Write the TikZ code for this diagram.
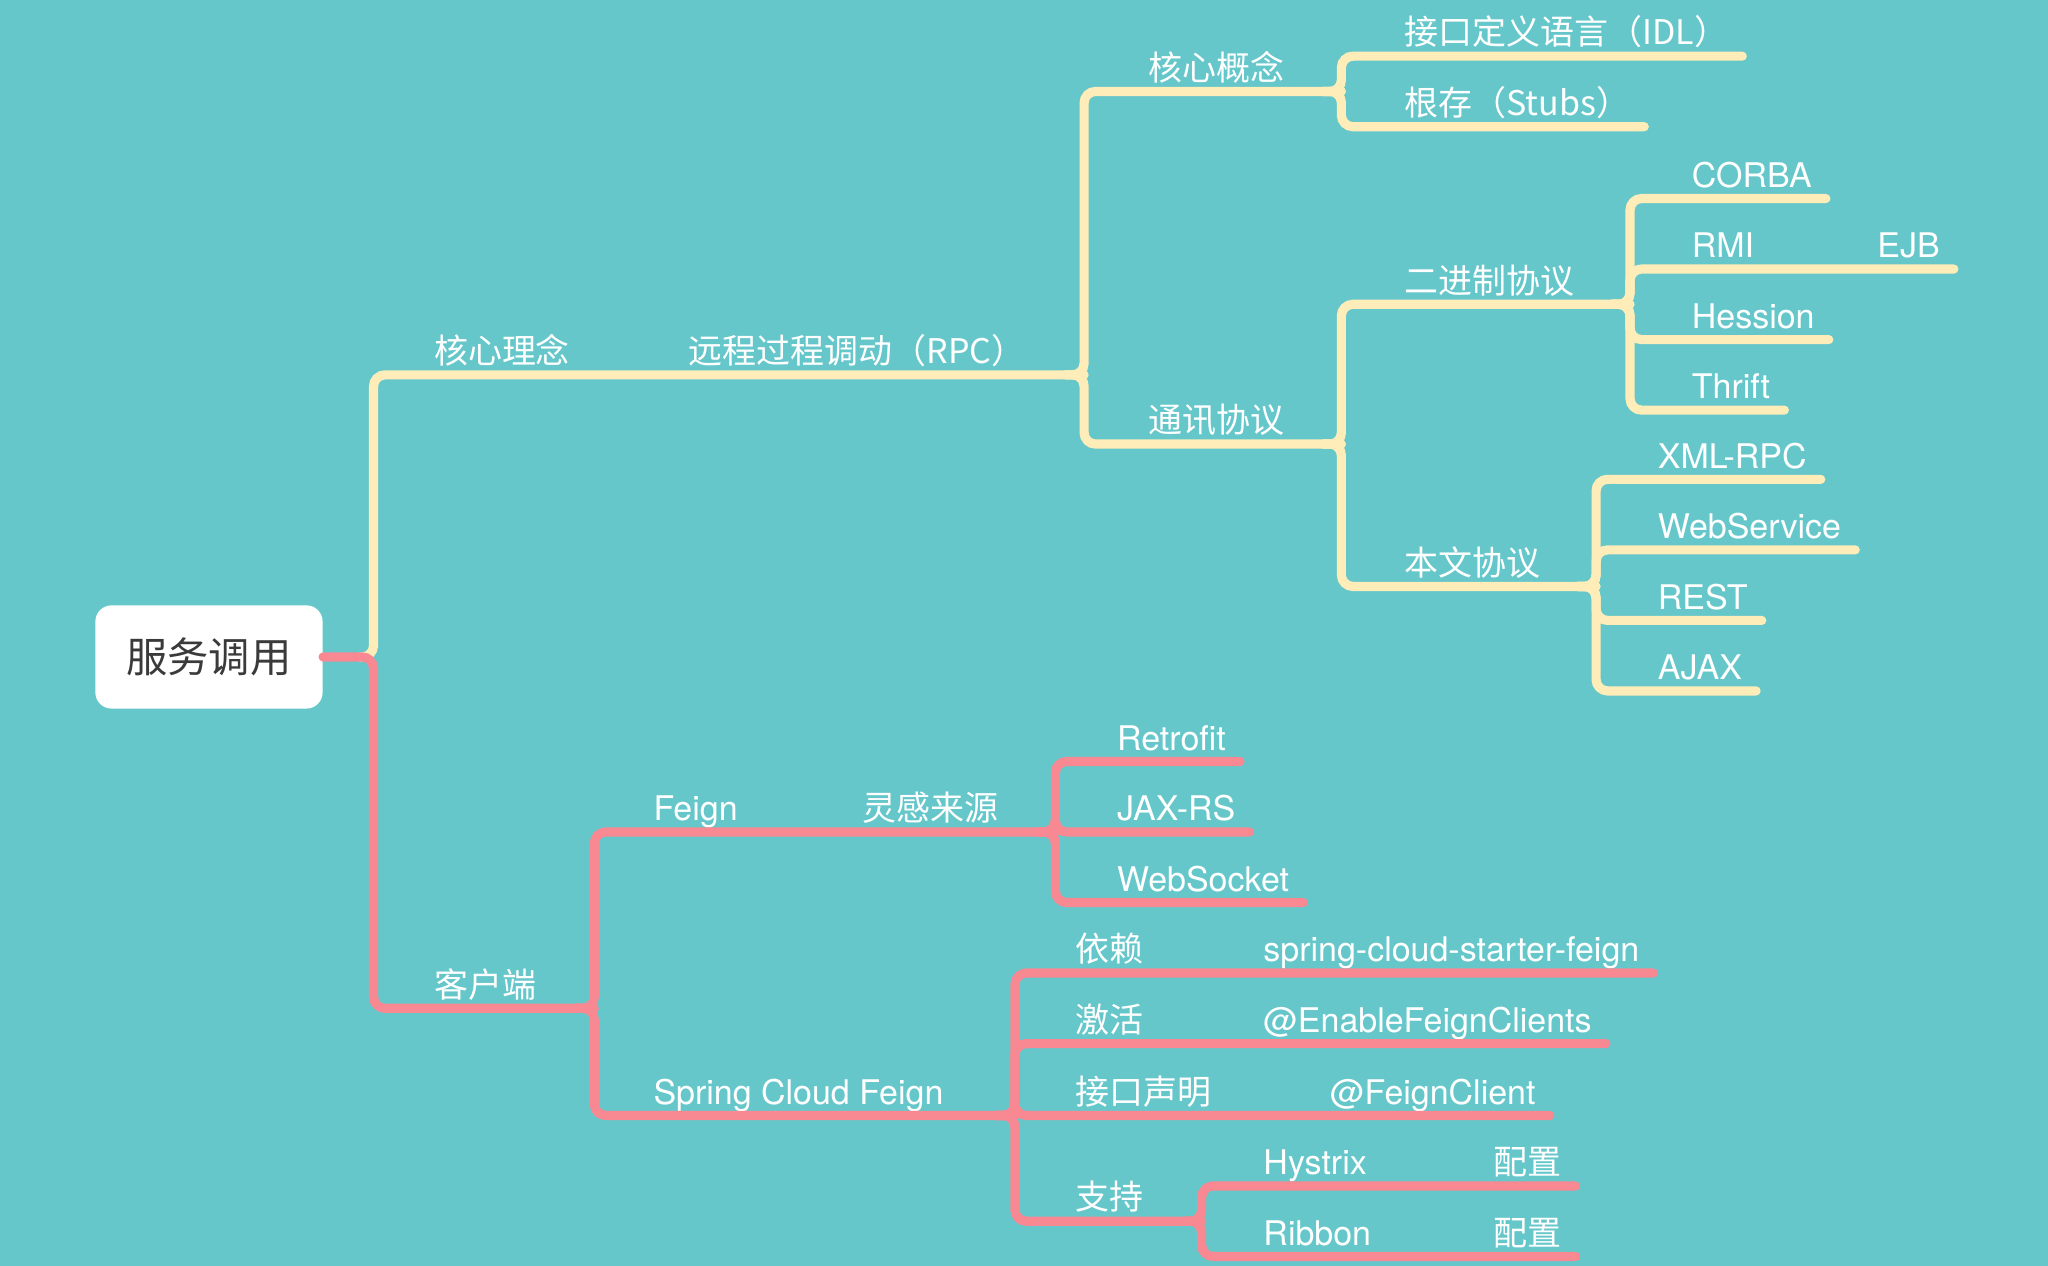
\documentclass[tikz,border=0pt]{standalone}
\usepackage{fontspec}
\usepackage{tikz}
\setmainfont{TeX Gyre Heros}
\newfontfamily\cjk{Noto Sans CJK SC}
\definecolor{bgteal}{RGB}{102,199,203}
\definecolor{lnyellow}{RGB}{254,237,184}
\definecolor{lnpink}{RGB}{248,136,145}
\definecolor{roottext}{RGB}{58,58,58}
\newcommand{\lblsize}{\fontsize{14.8pt}{17pt}\selectfont}

\begin{document}
\begin{tikzpicture}[x=0.02cm, y=-0.02cm,
  topic/.style={anchor=south west, inner xsep=0pt, inner ysep=4.7pt, text depth=0pt, text=white, font=\lblsize},
  ctopic/.style={topic, font=\lblsize\cjk},
  yline/.style={draw=lnyellow, line width=4pt, rounded corners=5pt, line cap=round},
  pline/.style={yline, draw=lnpink},
  rootbox/.style={fill=white, rounded corners=7pt, minimum width=3.48cm, minimum height=1.58cm, inner sep=0pt, text=roottext, font=\fontsize{18pt}{20pt}\selectfont\cjk}]
\useasboundingbox (0,0) rectangle (1568,969);
\fill [bgteal] (0,0) rectangle (1568,969);
% root
\node [rootbox] (root) at (160,503) {服务调用};
% branch points
\coordinate (b0) at (286,503);
\coordinate (b_rpc) at (830,287);
\coordinate (b_hxgn) at (1027,70);
\coordinate (b_tx) at (1027,340);
\coordinate (b_bin) at (1248,233);
\coordinate (b_txt) at (1222,449);
\coordinate (b_khd) at (455,772);
\coordinate (b_lg) at (808,637);
\coordinate (b_scf) at (777,854);
\coordinate (b_zc) at (920,935);
% yellow side
\node [ctopic] (kxln) at (332,287) {核心理念};
\node [ctopic] (rpc) at (527,287) {远程过程调动（RPC）};
\node [ctopic] (hxgn) at (879,70) {核心概念};
\node [ctopic] (idl) at (1075,43) {接口定义语言（IDL）};
\node [ctopic] (stub) at (1075,97) {根存（Stubs）};
\node [ctopic] (txxy) at (879,340) {通讯协议};
\node [ctopic] (bin) at (1075,233) {二进制协议};
\node [topic] (corba) at (1295,152) {CORBA};
\node [topic] (rmi) at (1295,206) {RMI};
\node [topic] (ejb) at (1437,206) {EJB};
\node [topic] (hess) at (1295,260) {Hession};
\node [topic] (thrift) at (1295,314) {Thrift};
\node [ctopic] (txt) at (1075,449) {本文协议};
\node [topic] (xmlrpc) at (1269,367) {XML-RPC};
\node [topic] (wsvc) at (1269,421) {WebService};
\node [topic] (rest) at (1269,475) {REST};
\node [topic] (ajax) at (1269,529) {AJAX};
% pink side
\node [ctopic] (khd) at (332,772) {客户端};
\node [topic] (feign) at (500,637) {Feign};
\node [ctopic] (lgly) at (660,637) {灵感来源};
\node [topic] (retro) at (855,583) {Retrofit};
\node [topic] (jax) at (855,637) {JAX-RS};
\node [topic] (wsock) at (855,691) {WebSocket};
\node [topic] (scf) at (500,854) {Spring Cloud Feign};
\node [ctopic] (yl) at (823,745) {依赖};
\node [topic] (scsf) at (967,745) {spring-cloud-starter-feign};
\node [ctopic] (jh) at (823,799) {激活};
\node [topic] (efc) at (967,799) {@EnableFeignClients};
\node [ctopic] (jksm) at (823,854) {接口声明};
\node [topic] (fc) at (1018,854) {@FeignClient};
\node [ctopic] (zc) at (823,935) {支持};
\node [topic] (hys) at (967,908) {Hystrix};
\node [ctopic] (pz1) at (1143,908) {配置};
\node [topic] (rib) at (967,962) {Ribbon};
\node [ctopic] (pz2) at (1143,962) {配置};
% yellow lines
\draw [yline] ([xshift=-6pt]b0) -- (b0) |- (kxln.south west) -- (rpc.south west) -- (b_rpc);
\draw [yline] ([xshift=-8pt]b_rpc) -- (b_rpc) |- (hxgn.south west) -- (b_hxgn);
\draw [yline] ([xshift=-8pt]b_rpc) -- (b_rpc) |- (txxy.south west) -- (b_tx);
\draw [yline] ([xshift=-8pt]b_tx) -- (b_tx) |- (bin.south west) -- (b_bin);
\draw [yline] ([xshift=-8pt]b_tx) -- (b_tx) |- (txt.south west) -- (b_txt);
\draw [yline] ([xshift=-8pt]b_bin) -- (b_bin) |- (rmi.south west) -- (ejb.south west) -- ([xshift=6pt]ejb.south east);
\foreach \b/\n in {b_hxgn/idl, b_hxgn/stub, b_bin/corba, b_bin/hess, b_bin/thrift,
                   b_txt/xmlrpc, b_txt/wsvc, b_txt/rest, b_txt/ajax}
  \draw [yline] ([xshift=-8pt]\b) -- (\b) |- ([xshift=6pt]\n.south east);
% pink lines
\draw [pline] (root.east) -- (b0) |- (khd.south west) -- (b_khd);
\draw [pline] ([xshift=-8pt]b_khd) -- (b_khd) |- (feign.south west) -- (lgly.south west) -- (b_lg);
\draw [pline] ([xshift=-8pt]b_khd) -- (b_khd) |- (scf.south west) -- (b_scf);
\draw [pline] ([xshift=-8pt]b_scf) -- (b_scf) |- (zc.south west) -- (b_zc);
\foreach \b/\m/\n in {b_scf/yl/scsf, b_scf/jh/efc, b_scf/jksm/fc, b_zc/hys/pz1, b_zc/rib/pz2}
  \draw [pline] ([xshift=-8pt]\b) -- (\b) |- (\m.south west) -- (\n.south west) -- ([xshift=6pt]\n.south east);
\foreach \n in {retro, jax, wsock}
  \draw [pline] ([xshift=-8pt]b_lg) -- (b_lg) |- ([xshift=6pt]\n.south east);
\end{tikzpicture}
\end{document}
